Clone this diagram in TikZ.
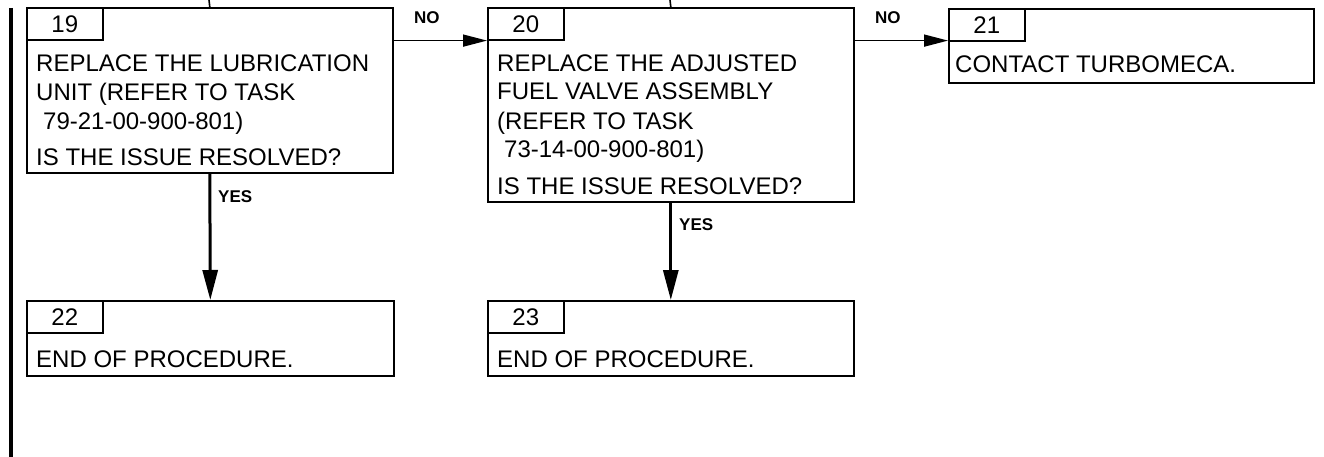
\documentclass[tikz,border=0pt]{standalone}
\usepackage{fontspec}
\setmainfont{Liberation Sans}
\usetikzlibrary{arrows.meta}
\begin{document}
\begin{tikzpicture}[x=1pt,y=-1pt,
 box/.style={draw, line width=1.6pt, inner sep=0pt, anchor=north west},
 tabbox/.style={draw, line width=1.6pt, inner sep=0pt, anchor=north west, minimum width=76pt, minimum height=32pt, font=\fontsize{24}{29}\selectfont},
 body/.style={anchor=base west, inner sep=0pt, align=left, font=\fontsize{24}{29}\selectfont},
 lbl/.style={anchor=base west, inner sep=0pt, font=\fontsize{17}{19}\selectfont\bfseries},
 noarrow/.style={line width=1.6pt, -{Triangle[length=24pt,width=12pt]}},
 yesarrow/.style={line width=3pt, -{Triangle[length=30pt,width=15pt]}},
 stub/.style={line width=1.6pt},
]
\useasboundingbox (0,0) rectangle (1324,457);

% left bar
\coordinate (bar1) at (11,8);
\coordinate (bar2) at (11,457);
\draw[line width=4pt] (bar1) -- (bar2);

% boxes
\node[box, minimum width=366pt, minimum height=165pt] (b19) at (26,7) {};
\node[box, minimum width=366pt, minimum height=194pt] (b20) at (487,7) {};
\node[box, minimum width=365pt, minimum height=74pt] (b21) at (948,8) {};
\node[box, minimum width=367pt, minimum height=75pt] (b22) at (26,300) {};
\node[box, minimum width=366pt, minimum height=75pt] (b23) at (487,300) {};

% tabs
\node[tabbox] (t19) at (b19.north west) {19};
\node[tabbox] (t20) at (b20.north west) {20};
\node[tabbox] (t21) at (b21.north west) {21};
\node[tabbox] (t22) at (b22.north west) {22};
\node[tabbox] (t23) at (b23.north west) {23};

% texts (base anchor = last line's baseline)
\node[body] (x19) at (36,166) {REPLACE THE LUBRICATION\\UNIT (REFER TO TASK\\\hspace*{7pt}79-21-00-900-801)\\[7pt]IS THE ISSUE RESOLVED?};
\node[body] (x20) at (497,194) {REPLACE THE ADJUSTED\\FUEL VALVE ASSEMBLY\\(REFER TO TASK\\\hspace*{7pt}73-14-00-900-801)\\[7pt]IS THE ISSUE RESOLVED?};
\node[body] (x21) at (955,73) {CONTACT TURBOMECA.};
\node[body] (x22) at (36,367) {END OF PROCEDURE.};
\node[body] (x23) at (497,367) {END OF PROCEDURE.};

% stubs from above
\coordinate (top19) at (209,0);
\coordinate (top20) at (670,0);
\draw[stub] (top19) -- (b19.north);
\draw[stub] (top20) -- (b20.north);

% connectors
\draw[noarrow] (b19.east |- t19.south) -- (b20.west |- t19.south);
\draw[noarrow] (b20.east |- t19.south) -- (b21.west |- t19.south);
\draw[yesarrow] (b19.south) -- (b22.north);
\draw[yesarrow] (b20.south) -- (b23.north);

% labels
\node[lbl] (no1) at (414,24) {NO};
\node[lbl] (no2) at (875,24) {NO};
\node[lbl] (yes1) at (218,203) {YES};
\node[lbl] (yes2) at (679,230) {YES};
\end{tikzpicture}
\end{document}
